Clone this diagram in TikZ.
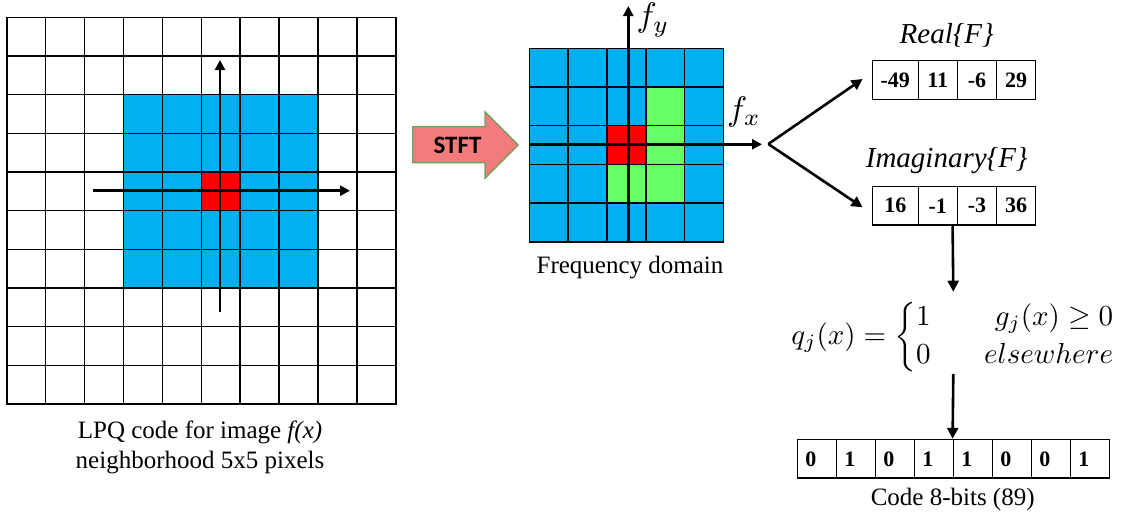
\documentclass[tikz,border=0pt]{standalone}
\usepackage{amsmath}
\usepackage{graphicx}
\usepackage[no-math]{fontspec}
\setmainfont{Liberation Serif}
\newfontfamily\calibfont{Carlito}
\usetikzlibrary{arrows.meta}
\definecolor{pixblue}{HTML}{00B0F0}
\definecolor{pixgreen}{HTML}{66FF66}
\definecolor{pixred}{HTML}{FF0000}
\definecolor{stftfill}{HTML}{F47B7B}
\definecolor{stftline}{HTML}{6AA35A}
\tikzset{
  gridline/.style={line width=1.6pt, black, line cap=rect},
  axisarrow/.style={line width=2.6pt, -{Triangle[length=10pt,width=10pt]}},
  flowarrow/.style={line width=2.6pt, -{Triangle[length=11pt,width=11pt]}},
  cell/.style={draw, line width=1.4pt, inner sep=0pt, minimum height=38.6pt,
    font=\rmfamily\bfseries\fontsize{22}{26}\selectfont},
  codecell/.style={cell, minimum width=39pt, text width=23pt, align=left, inner xsep=8pt},
  plaintext/.style={font=\rmfamily\fontsize{25}{30}\selectfont, inner sep=0pt, align=center},
  itallabel/.style={font=\rmfamily\itshape\fontsize{29}{34}\selectfont, inner sep=0pt},
  axislabel/.style={inner sep=0pt},
}
\begin{document}
\begin{tikzpicture}[x=1pt,y=-1pt]
\useasboundingbox (0,0) rectangle (1125,525);
\fill[white] (0,0) rectangle (1125,525);

% ---- left image grid ----
\fill[pixblue] (123.7,94.7) rectangle (318,287.3);
\fill[pixred] (201.3,172) rectangle (240.3,210.7);
\foreach \i in {0,...,10} {
  \draw[gridline] (6.7+\i*38.93,17.3) -- ++(0,386.7);
  \draw[gridline] (6.7,17.3+\i*38.67) -- ++(389.3,0);
}
\coordinate (lx0) at (92.7,190.7);
\coordinate (lx1) at (350,190.7);
\coordinate (ly0) at (220,311.7);
\coordinate (ly1) at (220,60);
\draw[axisarrow] (lx0) -- (lx1);
\draw[axisarrow] (ly0) -- (ly1);
\node[plaintext] (lpq) at (200,447) {LPQ code for image \textit{f(x)}\\neighborhood 5x5 pixels};

% ---- STFT arrow ----
\draw[fill=stftfill, draw=stftline, line width=1.2pt, line join=miter]
  (412.7,126.7) -- (485,126.7) -- (485,111.7) -- (518.3,145) -- (485,178.3)
  -- (485,162.7) -- (412.7,162.7) -- cycle;
\node[font=\calibfont\bfseries\fontsize{25}{30}\selectfont, inner sep=0pt] (stft) at (457.5,145) {STFT};

% ---- frequency grid ----
\fill[pixblue] (529.3,48.3) rectangle (723.3,241.7);
\fill[pixgreen] (646.7,87.3) rectangle (685,203.3);
\fill[pixgreen] (607.3,164.7) rectangle (646.7,203.3);
\fill[pixred] (607.3,126) rectangle (646.7,164.7);
\foreach \i in {0,...,5} {
  \draw[gridline] (529.3+\i*38.8,48.3) -- ++(0,193.4);
  \draw[gridline] (529.3,48.3+\i*38.68) -- ++(194,0);
}
\coordinate (fx0) at (529.3,144.3);
\coordinate (fx1) at (762,144.3);
\coordinate (fy0) at (628.3,241.7);
\coordinate (fy1) at (628.3,6);
\draw[axisarrow] (fx0) -- (fx1);
\draw[axisarrow] (fy0) -- (fy1);
\node[axislabel] (fy) at (653,20) {\scalebox{3.4}{$f_y$}};
\node[axislabel] (fx) at (744,112) {\scalebox{3.4}{$f_x$}};
\node[plaintext] (freq) at (630,268) {Frequency domain};

% ---- real / imaginary arrays ----
\node[itallabel] (reallab) at (946.7,35) {Real\{F\}};
\node[cell, minimum width=46pt]   (r1) at (895.3,80) {-49};
\node[cell, minimum width=39pt]   (r2) at (937.8,80) {11};
\node[cell, minimum width=39.4pt] (r3) at (977,80) {-6};
\node[cell, minimum width=39pt]   (r4) at (1016.2,80) {29};
\node[itallabel] (imaglab) at (946.7,161) {Imaginary\{F\}};
\node[cell, minimum width=46pt]   (i1) at (895.3,205.8) {16};
\node[cell, minimum width=39pt]   (i2) at (937.8,205.8) {-1};
\node[cell, minimum width=39.4pt] (i3) at (977,205.8) {-3};
\node[cell, minimum width=39pt]   (i4) at (1016.2,205.8) {36};

\coordinate (br) at (768.3,144);
\draw[flowarrow] (br) -- ([xshift=-9pt,yshift=1pt]r1.west);
\draw[flowarrow] (br) -- ([xshift=-9pt,yshift=-1.5pt]i1.west);

% ---- equation ----
\node[inner sep=0pt] (eq) at (954,337)
  {\scalebox{2.9}{$q_j(x)=\left\{\renewcommand{\arraystretch}{1.1}\begin{array}{@{}l@{\hspace{18.5pt}}r@{}}1 & g_j(x)\geq 0\\ 0 & elsewhere\end{array}\right.$}};
\coordinate (a1) at (953.3,291.7);
\draw[flowarrow] ([xshift=-4pt]i3.south west) -- (a1);
\coordinate (a2) at (953.3,374);

% ---- code array ----
\node[codecell] (c1) at (816.8,458.8) {0};
\node[codecell] (c2) at (855.8,458.8) {1};
\node[codecell] (c3) at (894.8,458.8) {0};
\node[codecell] (c4) at (933.8,458.8) {1};
\node[codecell] (c5) at (972.8,458.8) {1};
\node[codecell] (c6) at (1011.8,458.8) {0};
\node[codecell] (c7) at (1050.8,458.8) {0};
\node[codecell] (c8) at (1089.8,458.8) {1};
\draw[flowarrow] (a2) -- (c5.north west);
\node[plaintext] (codelab) at (952.7,499) {Code 8-bits (89)};
\end{tikzpicture}
\end{document}
